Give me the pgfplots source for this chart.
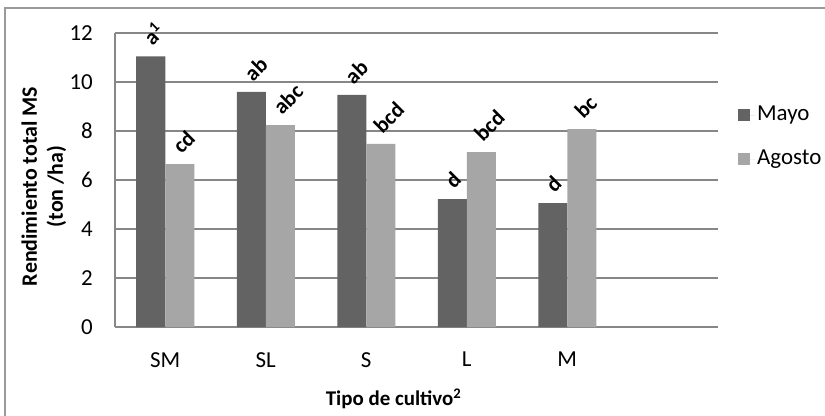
\documentclass[border=0pt]{standalone}
\usepackage{pgfplots}
\pgfplotsset{compat=1.18}
\usepackage{fontspec}
\setmainfont{Carlito}
\definecolor{mayo}{HTML}{636363}
\definecolor{agosto}{HTML}{A6A6A6}
\definecolor{gridc}{HTML}{878787}
\definecolor{framec}{HTML}{9A9A9A}

\pgfplotsset{
  sqlegend/.style={legend image code/.code={%
    \fill[##1] (0bp,-6bp) rectangle (12bp,6bp);
    \path (0bp,0bp) -- (17bp,0bp);}},
}

\begin{document}
\begin{tikzpicture}[x=1bp,y=1bp]
\useasboundingbox (-115,-88) rectangle (710,327);
\fill[white] (-115,-88) rectangle (710,327);
% chart frame
\draw[framec, line width=1.5bp] (-110,-95) -- (-110,319) -- (720,319);
\begin{axis}[
  scale only axis, width=603bp, height=294bp,
  xmin=-0.5, xmax=5.5, ymin=0, ymax=12,
  ytick={0,2,...,12},
  xtick={0,1,2,3,4},
  xticklabels={SM,SL,S,L,M},
  ymajorgrids, grid style={gridc, line width=1.2bp},
  axis x line*=bottom, axis y line*=left,
  axis line style={gridc, line width=1.2bp, -},
  major tick length=0pt,
  /pgf/number format/assume math mode=true,
  tick label style={font=\fontsize{23}{26}\selectfont},
  yticklabel style={inner sep=0pt, xshift=-22bp},
  xticklabel style={inner sep=0pt, anchor=north, yshift=-25bp},
  ybar=0pt, bar width=29bp,
  nodes near coords, point meta=explicit symbolic,
  % letters of significance, set at 45 degrees above each bar
  nodes near coords style={xshift=2bp, yshift=9bp, rotate=45,
    anchor=south west, inner sep=0pt,
    font=\bfseries\fontsize{22}{24}\selectfont},
  ylabel={Rendimiento total MS\\(ton /ha)},
  ylabel style={at={(axis description cs:-0.118,0.478)}, anchor=center,
    align=center, font=\bfseries\fontsize{22}{26}\selectfont},
  xlabel={Tipo de cultivo\textsuperscript{2}},
  xlabel style={at={(axis description cs:0.462,-0.245)}, anchor=center,
    font=\bfseries\fontsize{21}{24}\selectfont},
  legend style={at={(axis description cs:1.033,0.76)}, anchor=north west,
    draw=none, fill=none, inner sep=0pt, row sep=21bp,
    font=\fontsize{23}{26}\selectfont,
    nodes={text height=15bp, text depth=4bp}},
  legend cell align=left,
]
\addplot[fill=mayo, draw=none, sqlegend] coordinates {
  (0,11.05) [a\textsuperscript{1}]
  (1,9.60) [ab]
  (2,9.47) [ab]
  (3,5.22) [d]
  (4,5.06) [d]
};
\addplot[fill=agosto, draw=none, sqlegend] coordinates {
  (0,6.65) [cd]
  (1,8.24) [abc]
  (2,7.47) [bcd]
  (3,7.14) [bcd]
  (4,8.08) [bc]
};
\legend{Mayo, Agosto}
\end{axis}
\end{tikzpicture}
\end{document}
